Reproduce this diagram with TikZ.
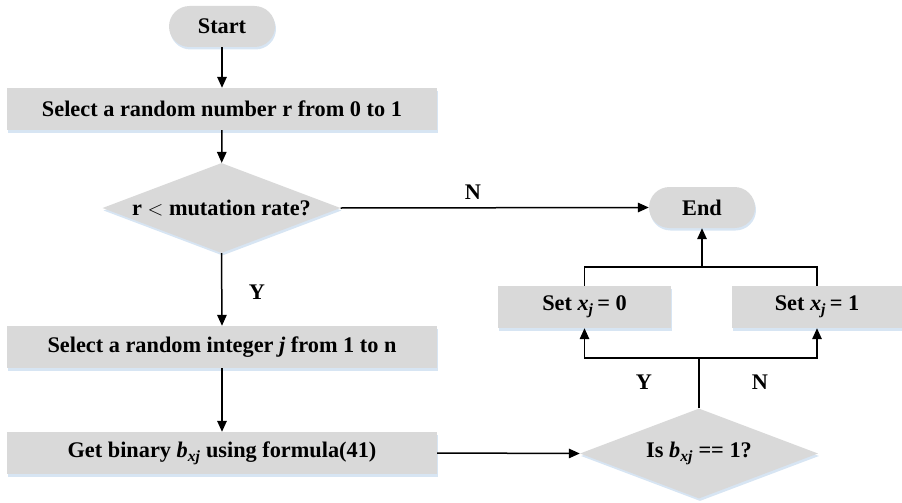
\documentclass[tikz,border=0pt]{standalone}
\usepackage{fontspec}
\setmainfont{Liberation Serif}
\usetikzlibrary{shapes.geometric,arrows.meta,shadows}
\definecolor{boxgray}{RGB}{217,217,217}
\definecolor{shadowblue}{RGB}{205,222,240}
\newcommand{\sbi}[1]{\textsubscript{\itshape #1}}
\begin{document}
\begin{tikzpicture}[x=1pt,y=-1pt,
  font=\fontsize{22.3}{26}\selectfont\bfseries,
  base/.style={fill=boxgray, draw=none, inner sep=0pt,
    drop shadow={shadow xshift=1pt, shadow yshift=-2.5pt, fill=shadowblue, opacity=0.8}},
  procbox/.style={base, rectangle, minimum height=42pt},
  termbox/.style={base, rectangle, rounded corners=20.5pt, minimum width=106pt, minimum height=41pt},
  decbox/.style={base, diamond, minimum width=238pt, minimum height=90pt},
  conn/.style={line width=1.5pt, -{Triangle[length=11pt,width=9.5pt]}},
  plain/.style={line width=1.5pt},
  lbl/.style={inner sep=0pt}]
\useasboundingbox (0,0) rectangle (902,503);

\node[termbox] (start) at (222,26.5) {Start};
\node[procbox, minimum width=430pt] (b1) at (222,109) {Select a random number r from 0 to 1};
\node[decbox] (d1) at (221.5,208) {\makebox[0pt]{r $<$ mutation rate?}};
\node[termbox] (end) at (702,207.5) {End};
\node[procbox, minimum width=430pt] (b2) at (222,347) {Select a random integer \textit{j} from 1 to n};
\node[procbox, minimum width=430pt] (b3) at (222,453) {Get binary \textit{b}\sbi{xj} using formula(41)};
\node[decbox] (d2) at (699,453.5) {\makebox[0pt]{Is \textit{b}\sbi{xj} == 1?}};
\node[procbox, minimum width=173pt] (s0) at (584.5,307) {Set \textit{x}\sbi{j}\,= 0};
\node[procbox, minimum width=171pt] (s1) at (817,307) {Set \textit{x}\sbi{j}\,= 1};

\coordinate (j1) at (699,358);
\coordinate (j2) at (702,267);

\draw[conn] (start) -- (b1);
\draw[conn] (b1) -- (d1);
\draw[conn] (d1.east) -- (end.west);
\draw[conn] (d1.south) -- (b2.north);
\draw[conn] (b2) -- (b3);
\draw[conn] (b3.east) -- (d2.west);
\draw[plain] (d2.north) -- (j1);
\draw[conn] (j1) -| (s0.south);
\draw[conn] (j1) -| (s1.south);
\draw[plain] (s0.north) |- (j2) -| (s1.north);
\draw[conn] (j2) -- (end.south);

\node[lbl] (lN1) at (473,192) {N};
\node[lbl] (lY1) at (257,292) {Y};
\node[lbl] (lY2) at (644,382) {Y};
\node[lbl] (lN2) at (760,382) {N};
\end{tikzpicture}
\end{document}
